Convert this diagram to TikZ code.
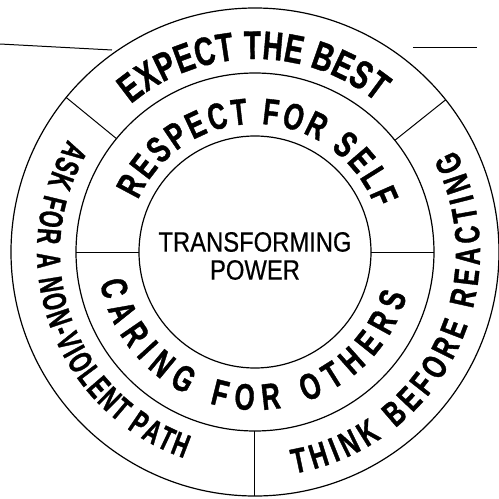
\documentclass[tikz,border=0pt]{standalone}
\usepackage{fontspec}
\newfontfamily\ringfont{Liberation Sans}[FakeStretch=0.7, FakeBold=1]
\newfontfamily\narrowfont{Liberation Sans}[FakeStretch=0.64, FakeBold=1]
\newfontfamily\hubfont{Liberation Sans}[FakeStretch=0.85, FakeBold=0.5]
\usetikzlibrary{decorations.text}

\begin{document}
\begin{tikzpicture}[
  ring/.style={line width=1.2pt},
  cut/.style={line width=1pt},
  arctext/.style={decorate, decoration={text along path, text align=fit to path, text={#1}}},
  hub/.style={align=center, inner sep=0pt, font=\hubfont\fontsize{28}{28}\selectfont}]
\useasboundingbox (-255pt,-247pt) rectangle (244pt,252pt);
\coordinate (c) at (0,0);
% the three rings
\draw[ring] (c) circle[radius=116pt];
\draw[ring] (c) circle[radius=179pt];
\draw[ring] (c) circle[radius=244pt];
% dividers
\draw[cut] (180:116pt) -- (180:179pt);
\draw[cut] (0:116pt) -- (0:179pt);
\draw[cut] (140.7:179pt) -- (140.7:244pt);
\draw[cut] (38.6:179pt) -- (38.6:244pt);
\draw[cut] (270:179pt) -- (270:244pt);
% rules at the top
\draw[cut] (-255pt,208pt) -- (-143pt,202pt);
\draw[cut] (158pt,205pt) -- (222pt,205pt);
% ring texts
\path[arctext={|\ringfont\bfseries\fontsize{40}{40}\selectfont|EXPECT THE BEST}]
  (130:193pt) arc[start angle=130, end angle=51, radius=193pt];
\path[arctext={|\ringfont\bfseries\fontsize{37}{37}\selectfont|RESPECT FOR SELF}]
  (156:128pt) arc[start angle=156, end angle=20, radius=128pt];
\path[arctext={|\ringfont\bfseries\fontsize{37}{37}\selectfont|CARING FOR OTHERS}]
  (191:158pt) arc[start angle=191, end angle=344, radius=158pt];
\path[arctext={|\ringfont\bfseries\fontsize{35}{35}\selectfont|THINK BEFORE REACTING}]
  (-80:225pt) arc[start angle=-80, end angle=27, radius=225pt];
\path[arctext={|\narrowfont\bfseries\fontsize{33.5}{33.5}\selectfont|ASK FOR A NON-VIOLENT PATH}]
  (149:218pt) arc[start angle=149, end angle=251, radius=218pt];
% centre
\node[hub] (hub) at (0,-4pt) {TRANSFORMING\\POWER};
\end{tikzpicture}
\end{document}
